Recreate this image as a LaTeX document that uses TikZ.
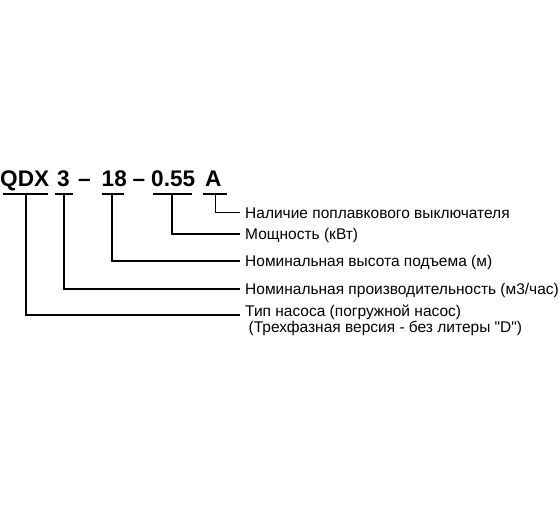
\documentclass[tikz,border=0pt]{standalone}
\usepackage{fontspec}
\setmainfont{Liberation Sans}[Ligatures=TeXOff]
\begin{document}
\begin{tikzpicture}[x=1pt,y=-1pt,
  ttl/.style={inner sep=0pt,anchor=base west,font=\fontsize{22.6}{26}\selectfont\bfseries},
  lbl/.style={inner sep=0pt,anchor=base west,font=\fontsize{15.5}{12}\selectfont},
  ln/.style={line width=1.1pt,black}]
\useasboundingbox (0,0) rectangle (560,504);
% title parts
\node[ttl] (qdx) at (0,186) {QDX};
\node[ttl] (n3) at (57,186) {3};
\node[ttl] (d1) at (78,186) {–};
\node[ttl] (n18) at (101.5,186) {18};
\node[ttl] (d2) at (132.5,186) {–};
\node[ttl] (n055) at (151,186) {0.55};
\node[ttl] (na) at (205,186) {A};
% labels
\node[lbl] (l1) at (245,218) {Наличие поплавкового выключателя};
\node[lbl] (l2) at (245,239.5) {Мощность (кВт)};
\node[lbl] (l3) at (245,266.5) {Номинальная высота подъема (м)};
\node[lbl] (l4) at (245,294.5) {Номинальная производительность (м3/час)};
\node[lbl,align=left] (l5) at (245,332.5) {Тип насоса (погружной насос)\\\hspace*{3.5pt}(Трехфазная версия - без литеры "D")};
% underline coordinates
\coordinate (u1a) at (3,194); \coordinate (u1b) at (48,194); \coordinate (m1) at (26,194);
\coordinate (u2a) at (55,194); \coordinate (u2b) at (73,194); \coordinate (m2) at (64,194);
\coordinate (u3a) at (101.5,194); \coordinate (u3b) at (123.5,194); \coordinate (m3) at (112,194);
\coordinate (u4a) at (153,194); \coordinate (u4b) at (192,194); \coordinate (m4) at (172,194);
\coordinate (u5a) at (203,194); \coordinate (u5b) at (227,194); \coordinate (m5) at (215.5,194);
\draw[ln] (u1a) -- (u1b);
\draw[ln] (u2a) -- (u2b);
\draw[ln] (u3a) -- (u3b);
\draw[ln] (u4a) -- (u4b);
\draw[ln] (u5a) -- (u5b);
% connectors
\draw[ln] (m5) |- ([xshift=-5pt,yshift=5.5pt]l1.base west);
\draw[ln] (m4) |- ([xshift=-5pt,yshift=5.5pt]l2.base west);
\draw[ln] (m3) |- ([xshift=-5pt,yshift=5.5pt]l3.base west);
\draw[ln] (m2) |- ([xshift=-5pt,yshift=5.5pt]l4.base west);
\draw[ln] (m1) |- ([xshift=-5pt,yshift=17.5pt]l5.base west);
\end{tikzpicture}
\end{document}
